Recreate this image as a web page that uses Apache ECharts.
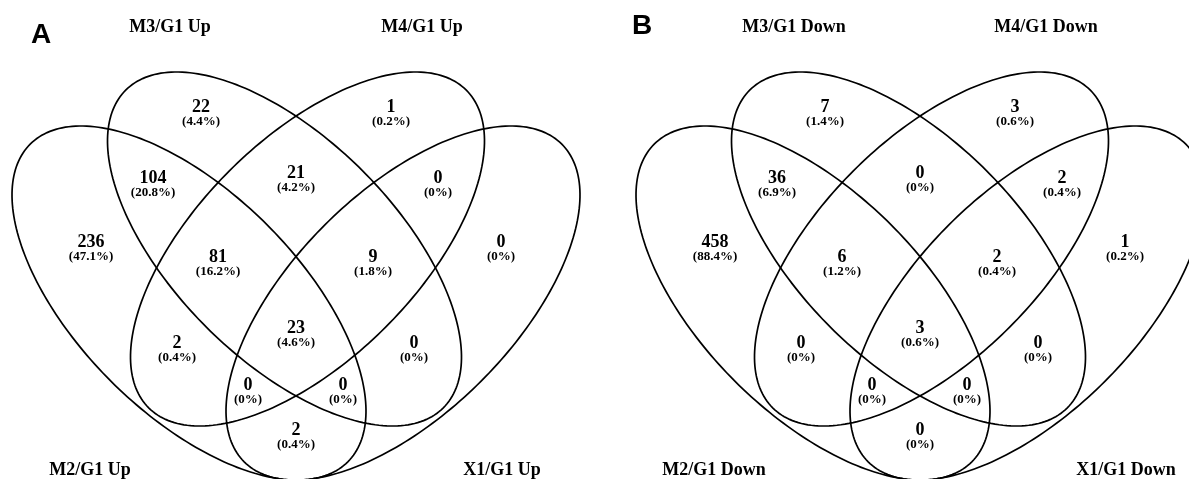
<!DOCTYPE html>
<html>
<head>
<meta charset="utf-8">
<script src="https://cdn.jsdelivr.net/npm/echarts@6/dist/echarts.min.js"></script>
<style>
html, body { margin: 0; padding: 0; background: #fff; }
#chartmain { width: 1189px; height: 479px; }
</style>
</head>
<body>
<div id="chartmain"></div>
<script>
// data
var panelNames = ['A', 'B'];
var setNamesA = ['M2/G1 Up', 'M3/G1 Up', 'M4/G1 Up', 'X1/G1 Up'];
var setNamesB = ['M2/G1 Down', 'M3/G1 Down', 'M4/G1 Down', 'X1/G1 Down'];
// region order is the same in both panels
var regions = ['M3', 'M4', 'M2&M3', 'M3&M4', 'M4&X1', 'M2', 'X1', 'M2&M3&M4', 'M3&M4&X1',
	'M2&M3&M4&X1', 'M2&M4', 'M3&X1', 'M2&M4&X1', 'M2&M3&X1', 'M2&X1'];
var countsA = [22, 1, 104, 21, 0, 236, 0, 81, 9, 23, 2, 0, 0, 0, 2];
var pctA = [4.4, 0.2, 20.8, 4.2, 0, 47.1, 0, 16.2, 1.8, 4.6, 0.4, 0, 0, 0, 0.4];
var countsB = [7, 3, 36, 0, 2, 458, 1, 6, 2, 3, 0, 0, 0, 0, 0];
var pctB = [1.4, 0.6, 6.9, 0, 0.4, 88.4, 0.2, 1.2, 0.4, 0.6, 0, 0, 0, 0, 0];

// layout (panel coordinates, px)
var panelOffset = [0, 624];
var ellipseGeom = [ // cx, cy, semi-major, semi-minor, angle
	[189, 303, 224.6, 110.5, 45],
	[284.5, 249, 224.6, 110.5, 45],
	[307.5, 249, 224.6, 110.5, -45],
	[403, 303, 224.6, 110.5, -45]
];
var regionPos = [[201, 107], [391, 107], [153, 178], [296, 173], [438, 178], [91, 242], [501, 242],
	[218, 257], [373, 257], [296, 328], [177, 343], [414, 343], [248, 385], [343, 385], [296, 430]];
var setLabelPos = [[90, 470], [170, 27], [422, 27], [502, 470]];
var letterPos = [[41, 35], [642, 26]];

var numFont = 'bold 18px "Liberation Serif", "Times New Roman", serif';
var pctFont = 'bold 13px "Liberation Serif", "Times New Roman", serif';
var catFont = 'bold 18px "Liberation Serif", "Times New Roman", serif';
var letterFont = 'bold 28px "Liberation Sans", Arial, sans-serif';

var ellipseData = [];
var labelItems = [];
var counts = [countsA, countsB];
var pcts = [pctA, pctB];
var setNames = [setNamesA, setNamesB];
for (var p = 0; p < 2; p++) {
	var dx = panelOffset[p];
	for (var e = 0; e < ellipseGeom.length; e++) {
		var g = ellipseGeom[e];
		ellipseData.push([g[0] + dx, g[1], g[2], g[3], g[4]]);
	}
	for (var r = 0; r < regions.length; r++) {
		labelItems.push({ x: regionPos[r][0] + dx, y: regionPos[r][1], text: String(counts[p][r]), font: numFont });
		labelItems.push({ x: regionPos[r][0] + dx, y: regionPos[r][1] + 15, text: '(' + pcts[p][r] + '%)', font: pctFont });
	}
	for (var s = 0; s < 4; s++) {
		labelItems.push({ x: setLabelPos[s][0] + dx, y: setLabelPos[s][1], text: setNames[p][s], font: catFont });
	}
	labelItems.push({ x: letterPos[p][0], y: letterPos[p][1], text: panelNames[p], font: letterFont });
}

function renderEllipse(params, api) {
	var cx = api.value(0), cy = api.value(1), a = api.value(2), b = api.value(3);
	var ang = api.value(4) * Math.PI / 180;
	var pts = [];
	for (var i = 0; i < 240; i++) {
		var t = i / 240 * 2 * Math.PI;
		pts.push(api.coord([
			cx + a * Math.cos(t) * Math.cos(ang) - b * Math.sin(t) * Math.sin(ang),
			cy + a * Math.cos(t) * Math.sin(ang) + b * Math.sin(t) * Math.cos(ang)
		]));
	}
	return {
		type: 'polygon',
		shape: { points: pts },
		style: { fill: 'none', stroke: '#000', lineWidth: 1.7 }
	};
}

function renderLabel(params, api) {
	var d = labelItems[params.dataIndex];
	var pt = api.coord([api.value(0), api.value(1)]);
	return {
		type: 'text',
		style: {
			x: pt[0], y: pt[1], text: d.text, font: d.font,
			fill: '#000', align: 'center', verticalAlign: 'middle'
		}
	};
}

var option = {
	animation: false,
	backgroundColor: '#fff',
	grid: { left: 0, right: 0, top: 0, bottom: 0 },
	xAxis: { type: 'value', min: 0, max: 1189, show: false },
	yAxis: { type: 'value', min: 0, max: 479, inverse: true, show: false },
	series: [{
		type: 'custom',
		renderItem: renderEllipse,
		data: ellipseData,
		clip: true
	}, {
		type: 'custom',
		renderItem: renderLabel,
		data: labelItems.map(function (d) { return [d.x, d.y]; })
	}]
};

var myChart = echarts.init(document.getElementById('chartmain'));
myChart.setOption(option);
</script>
</body>
</html>
